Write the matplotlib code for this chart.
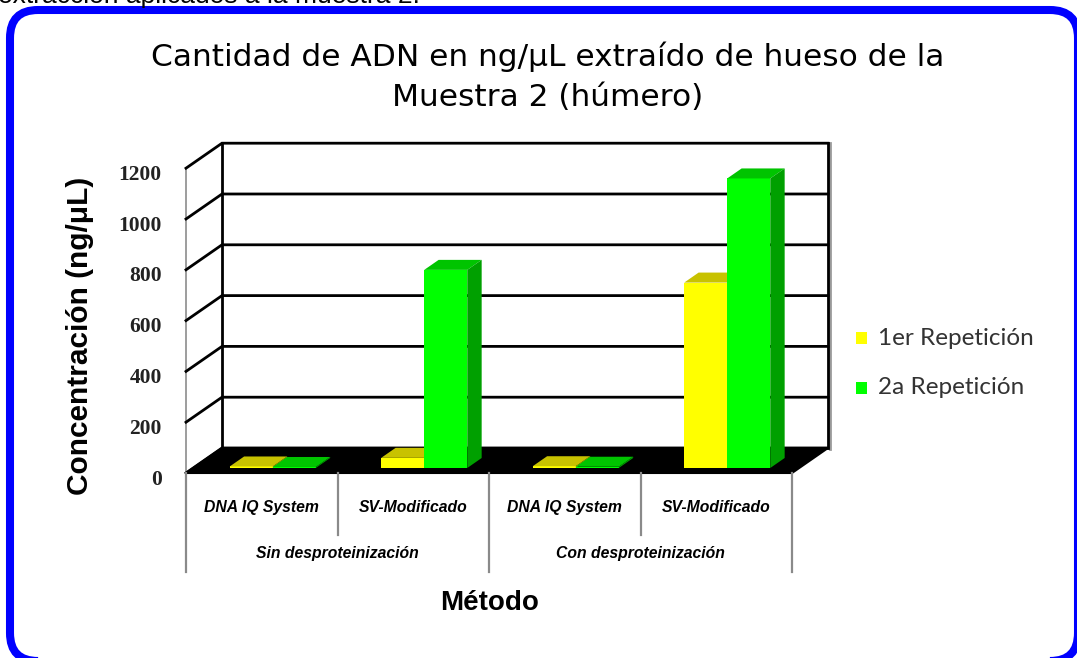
import matplotlib
matplotlib.use("Agg")
import matplotlib.pyplot as plt
from matplotlib.patches import Polygon, FancyBboxPatch
from matplotlib.transforms import IdentityTransform

# ---- data -------------------------------------------------------------
methods = ["DNA IQ System", "SV-Modificado", "DNA IQ System", "SV-Modificado"]
groups = ["Sin desproteinización", "Con desproteinización"]
series_names = ["1er Repetición", "2a Repetición"]
rep1 = [6, 40, 7, 730]       # ng/µL, 1a repetición
rep2 = [4, 780, 5, 1140]     # ng/µL, 2a repetición
yticks = [0, 200, 400, 600, 800, 1000, 1200]

# ---- colours ------------------------------------------------------------
face = ["#FFFF00", "#00FF00"]
top = ["#C8C200", "#00C400"]
side = ["#A8A400", "#00A000"]

W, H = 1077, 658
fig = plt.figure(figsize=(W / 100, H / 100), dpi=100)
fig.patch.set_facecolor("white")

# ---- plot area: category units horizontally, ng/µL vertically ----------
PX_CAT = 151.5          # pixels per category
PX_VAL = 0.254          # pixels per ng/µL
X0_PX, Y0_PX = 186, 473 # front-left floor corner
ax_l, ax_r, ax_t, ax_b = 100, 860, 130, 600
ax = fig.add_axes([ax_l / W, 1 - ax_b / H, (ax_r - ax_l) / W, (ax_b - ax_t) / H])
ax.set_xlim(-0.5 + (ax_l - X0_PX) / PX_CAT, -0.5 + (ax_r - X0_PX) / PX_CAT)
ax.set_ylim((Y0_PX - ax_b) / PX_VAL, (Y0_PX - ax_t) / PX_VAL)
ax.axis("off")

DX = 36 / PX_CAT        # depth offset (category units)
DY = 25 / PX_VAL        # depth offset (value units)
ncat = len(methods)
xl, xr = -0.5, ncat - 0.5
ymax = yticks[-1]

# left side wall
ax.add_patch(Polygon([(xl, 0), (xl + DX, DY), (xl + DX, ymax + DY), (xl, ymax)],
                     closed=True, facecolor="white", edgecolor="none", zorder=0))
ax.plot([xl, xl], [0, ymax], color="#8c8c8c", lw=1.2, zorder=0.5)
# back wall
ax.add_patch(Polygon([(xl + DX, DY), (xr + DX, DY), (xr + DX, ymax + DY), (xl + DX, ymax + DY)],
                     closed=True, facecolor="white", edgecolor="none", zorder=0))
ax.plot([xr + DX + 0.012, xr + DX + 0.012], [DY - 5, ymax + DY], color="#9a9a9a", lw=2.0, zorder=0.4)
for v in yticks:
    ax.plot([xl, xl + DX, xr + DX], [v, v + DY, v + DY], color="black", lw=2.0,
            solid_joinstyle="miter", zorder=0.6)
ax.plot([xl + DX, xl + DX], [DY, ymax + DY], color="black", lw=2.0, zorder=0.6)
ax.plot([xr + DX, xr + DX], [DY, ymax + DY], color="black", lw=2.0, zorder=0.6)

# floor
ax.add_patch(Polygon([(xl, 0), (xr, 0), (xr + DX, DY), (xl + DX, DY)],
                     closed=True, facecolor="black", edgecolor="black", lw=1.5, zorder=1))

# y tick labels
for v in yticks:
    ax.text(xl - 0.16, v - 26, f"{v}", ha="right", va="center", fontsize=15.5,
            family="Liberation Serif", fontweight="bold", color="#222222")

# bars (oblique 3-D look)
F0, F1 = 0.2, 0.6       # front / back depth of the bars
bw = 0.284
shift = 0.025
for j, vals in enumerate([rep1, rep2]):
    xs = [i + shift + (j - 0.5) * bw + F0 * DX for i in range(ncat)]
    z = 2 + j
    ax.bar(xs, vals, width=bw, bottom=F0 * DY, color=face[j], edgecolor="none", zorder=z)
    d_x, d_y = (F1 - F0) * DX, (F1 - F0) * DY
    for x, v in zip(xs, vals):
        x0, x1 = x - bw / 2, x + bw / 2
        y0, y1 = F0 * DY, F0 * DY + v
        ax.add_patch(Polygon([(x0, y1), (x1, y1), (x1 + d_x, y1 + d_y), (x0 + d_x, y1 + d_y)],
                             closed=True, facecolor=top[j], edgecolor="none", zorder=z))
        ax.add_patch(Polygon([(x1, y0), (x1 + d_x, y0 + d_y), (x1 + d_x, y1 + d_y), (x1, y1)],
                             closed=True, facecolor=side[j], edgecolor="none", zorder=z))

# category table below the floor
row1_y, row2_y = -134, -315
inner_bottom, outer_bottom = -244, -390
for b in range(ncat + 1):
    xb = xl + b
    bottom = outer_bottom if b % 2 == 0 else inner_bottom
    ax.plot([xb, xb], [0, bottom], color="#8a8a8a", lw=1.6, zorder=1, clip_on=False)
catfont = dict(family="Liberation Sans", fontweight="bold", style="italic",
               fontsize=11.3, color="black")
for i, m in enumerate(methods):
    ax.text(i, row1_y, m, ha="center", va="center", **catfont)
for g, name in enumerate(groups):
    ax.text(2 * g + 0.5, row2_y, name, ha="center", va="center", **catfont)

# ---- texts around the chart --------------------------------------------
def ftext(x, y, s, **kw):
    return fig.text(x / W, 1 - y / H, s, **kw)

ftext(420, 3, "extracción aplicados a la muestra 2.", ha="right", va="baseline",
      fontsize=19, family="Liberation Sans", color="black")
ftext(548, 77, "Cantidad de ADN en ng/μL extraído de hueso de la\nMuestra 2 (húmero)",
      ha="center", va="center", fontsize=22.5, family="DejaVu Sans", linespacing=1.5,
      color="black")
ftext(80, 336, "Concentración (ng/μL)", rotation=90, ha="center", va="center",
      fontsize=21.5, family="Liberation Sans", fontweight="bold", color="black")
ftext(490, 603, "Método", ha="center", va="center", fontsize=20,
      family="Liberation Sans", fontweight="bold", color="black")

# legend
for k, (name, y) in enumerate(zip(series_names, [338, 388])):
    fig.patches.append(Polygon([(856, H - y - 6), (867, H - y - 6), (867, H - y + 6), (856, H - y + 6)],
                               closed=True, facecolor=face[k], edgecolor="none",
                               transform=IdentityTransform(), figure=fig))
    ftext(878, y, name, ha="left", va="center", fontsize=17.5, family="Lato",
          color="#333333")

# rounded blue frame
fig.patches.append(FancyBboxPatch((10, H - 661), 1068, 651,
                                  boxstyle="round,pad=0,rounding_size=28",
                                  facecolor="none", edgecolor="#0000FF", lw=5.8,
                                  transform=IdentityTransform(), figure=fig))

fig.savefig("out.png", dpi=100, facecolor="white")
